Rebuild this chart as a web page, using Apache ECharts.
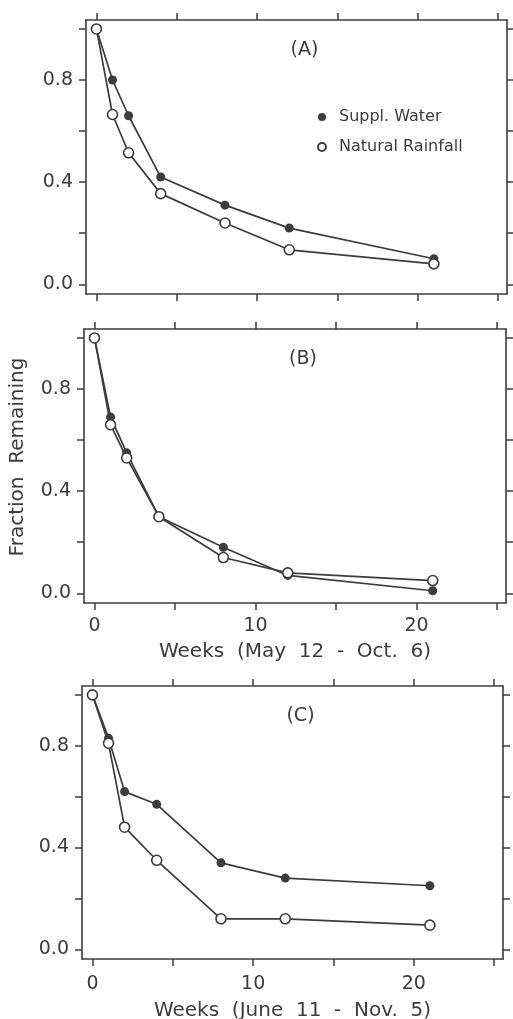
<!DOCTYPE html>
<html>
<head>
<meta charset="utf-8">
<script src="https://cdn.jsdelivr.net/npm/echarts@6/dist/echarts.min.js"></script>
<style>
html,body{margin:0;padding:0;background:#fff;}
#c{width:513px;height:1019px;}
</style>
</head>
<body>
<div id="c"></div>
<script>
// ---- data ----
const weeks = [0, 1, 2, 4, 8, 12, 21];
const seriesNames = ['Suppl. Water', 'Natural Rainfall'];
const aSuppl   = [1.00, 0.80, 0.66, 0.42, 0.31, 0.22, 0.10];
const aNatural = [1.00, 0.665, 0.515, 0.355, 0.24, 0.135, 0.08];
const bSuppl   = [1.00, 0.69, 0.55, 0.30, 0.18, 0.07, 0.01];
const bNatural = [1.00, 0.66, 0.53, 0.30, 0.14, 0.08, 0.05];
const cSuppl   = [1.00, 0.83, 0.62, 0.57, 0.34, 0.28, 0.25];
const cNatural = [1.00, 0.81, 0.48, 0.35, 0.12, 0.12, 0.095];
const xTicks = [0, 5, 10, 15, 20, 25];
const xLabelVals = [0, 10, 20];
const yTicks = [0, 0.2, 0.4, 0.6, 0.8, 1.0];
const yLabelVals = [0, 0.4, 0.8];
const panelLabels = ['(A)', '(B)', '(C)'];
const xTitles = ['', 'Weeks  (May  12  -  Oct.  6)', 'Weeks  (June  11  -  Nov.  5)'];
const yTitle = 'Fraction  Remaining';

const panels = [[aSuppl, aNatural], [bSuppl, bNatural], [cSuppl, cNatural]];
const grids = [
  {left: 86, top: 20, width: 421, height: 274, outerBoundsMode: 'none'},
  {left: 84, top: 329, width: 422, height: 274, outerBoundsMode: 'none'},
  {left: 82, top: 686, width: 421, height: 273, outerBoundsMode: 'none'}
];
const labelMargins = [14, 14, 16];
const nameGaps = [38, 39, 42];

const INK = '#3c3c3c';
const FONT = 'DejaVu Sans';
const XMIN = -0.65, XMAX = 25.55, YMIN = -0.038, YMAX = 1.035;

const xAxes = [], yAxes = [], series = [], titles = [];
grids.forEach((g, i) => {
  const lineCommon = {show: true, onZero: false, lineStyle: {color: INK, width: 1.6}};
  const tickCommon = {show: true, length: 7, inside: false, lineStyle: {color: INK, width: 1.5}};
  xAxes.push({
    type: 'value', gridIndex: i, position: 'bottom', min: XMIN, max: XMAX,
    axisLine: lineCommon, splitLine: {show: false},
    axisTick: Object.assign({}, tickCommon, {customValues: xTicks}),
    axisLabel: {show: i > 0, customValues: xLabelVals, margin: labelMargins[i], color: INK, fontFamily: FONT, fontSize: 19},
    name: xTitles[i], nameLocation: 'middle', nameGap: nameGaps[i],
    nameTextStyle: {color: INK, fontFamily: FONT, fontSize: 20}
  });
  xAxes.push({
    type: 'value', gridIndex: i, position: 'top', min: XMIN, max: XMAX,
    axisLine: lineCommon, splitLine: {show: false},
    axisTick: Object.assign({}, tickCommon, {customValues: xTicks}),
    axisLabel: {show: false}
  });
  yAxes.push({
    type: 'value', gridIndex: i, position: 'left', min: YMIN, max: YMAX,
    axisLine: lineCommon, splitLine: {show: false},
    axisTick: Object.assign({}, tickCommon, {customValues: yTicks}),
    axisLabel: {show: true, customValues: yLabelVals, margin: 13, color: INK, fontFamily: FONT, fontSize: 19,
      formatter: v => Number(v).toFixed(1)},
    name: i === 1 ? yTitle : '', nameLocation: 'middle', nameGap: 56,
    nameTextStyle: {color: INK, fontFamily: FONT, fontSize: 20, padding: [0, 0, 0, 18]}
  });
  yAxes.push({
    type: 'value', gridIndex: i, position: 'right', min: YMIN, max: YMAX,
    axisLine: lineCommon, splitLine: {show: false},
    axisTick: Object.assign({}, tickCommon, {customValues: yTicks}),
    axisLabel: {show: false}
  });
  const [sup, nat] = panels[i];
  series.push({
    name: seriesNames[0], type: 'line', xAxisIndex: 2 * i, yAxisIndex: 2 * i,
    data: weeks.map((w, k) => [w, sup[k]]),
    symbol: 'circle', symbolSize: 9, z: 2,
    lineStyle: {color: INK, width: 1.7},
    itemStyle: {color: INK}
  });
  series.push({
    name: seriesNames[1], type: 'line', xAxisIndex: 2 * i, yAxisIndex: 2 * i,
    data: weeks.map((w, k) => [w, nat[k]]),
    symbol: 'circle', symbolSize: 10, z: 3,
    lineStyle: {color: INK, width: 1.7},
    itemStyle: {color: '#fff', borderColor: INK, borderWidth: 1.6}
  });
  titles.push({
    text: panelLabels[i], left: g.left + g.width * 0.5 + 3, top: g.top + 16, textAlign: 'center',
    textStyle: {color: INK, fontFamily: FONT, fontSize: 19, fontWeight: 'normal'}
  });
});

const chart = echarts.init(document.getElementById('c'), null, {renderer: 'canvas'});
chart.setOption({
  animation: false,
  backgroundColor: '#fff',
  title: titles,
  grid: grids,
  xAxis: xAxes,
  yAxis: yAxes,
  legend: {
    data: seriesNames, orient: 'vertical', left: 312, top: 104,
    icon: 'circle', itemWidth: 8, itemHeight: 8, itemGap: 14,
    textStyle: {color: INK, fontFamily: FONT, fontSize: 16, padding: [0, 0, 0, 8]},
    selectedMode: false
  },
  series: series
});
</script>
</body>
</html>
